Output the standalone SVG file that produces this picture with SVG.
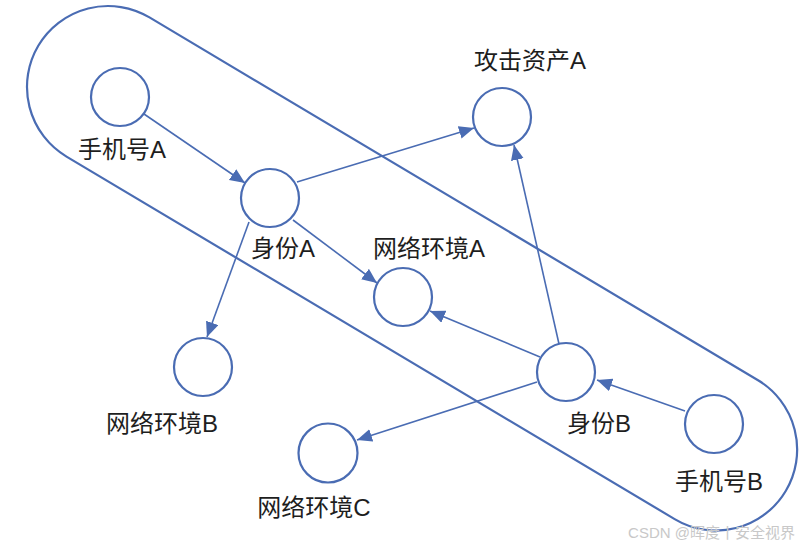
<svg xmlns="http://www.w3.org/2000/svg" width="807" height="549" viewBox="0 0 807 549">
  <style>
    .node { fill: #ffffff; stroke: #4a6cb3; stroke-width: 2.2; }
    .group { fill: none; stroke: #4a6cb3; stroke-width: 2.2; }
    .edge { fill: none; stroke: #4a6cb3; stroke-width: 1.6; marker-end: url(#arrow); }
    .label { font-family: "Liberation Sans", "Noto Sans CJK SC", sans-serif; font-size: 24px; fill: #1e1e1e; text-anchor: middle; }
    .wm { font-family: "Liberation Sans", "Noto Sans CJK SC", sans-serif; font-size: 15px; fill: #c8c8c8; text-anchor: end; }
  </style>
  <defs>
    <marker id="arrow" markerUnits="userSpaceOnUse" markerWidth="16" markerHeight="14" refX="15" refY="6.5" orient="auto">
      <path d="M0,0 L15,6.5 L0,13 z" fill="#4a6cb3"/>
    </marker>
  </defs>
  <rect width="807" height="549" fill="#ffffff"/>

  <g id="boundary">
    <rect class="group" x="-81" y="-81" width="870" height="162" rx="81" ry="81" transform="translate(108,87) rotate(30.8)"/>
  </g>

  <g id="connectors">
    <line class="edge" x1="144" y1="114" x2="245" y2="183"/>
    <line class="edge" x1="297" y1="182" x2="474" y2="128"/>
    <line class="edge" x1="293" y1="220" x2="377" y2="283"/>
    <line class="edge" x1="249" y1="222" x2="207" y2="337"/>
    <line class="edge" x1="559" y1="344" x2="514" y2="145"/>
    <line class="edge" x1="540" y1="357" x2="430" y2="311"/>
    <line class="edge" x1="537" y1="382" x2="357" y2="440"/>
    <line class="edge" x1="685" y1="411" x2="597" y2="380"/>
  </g>

  <g id="phoneA">
    <circle class="node" cx="120" cy="97" r="29"/>
    <text class="label" x="122" y="158">手机号A</text>
  </g>
  <g id="idA">
    <circle class="node" cx="270" cy="198" r="29"/>
    <text class="label" x="283" y="257">身份A</text>
  </g>
  <g id="assetA">
    <circle class="node" cx="502" cy="117" r="29"/>
    <text class="label" x="530" y="69">攻击资产A</text>
  </g>
  <g id="netA">
    <circle class="node" cx="403" cy="297" r="29"/>
    <text class="label" x="429" y="257">网络环境A</text>
  </g>
  <g id="netB">
    <circle class="node" cx="203" cy="367" r="29"/>
    <text class="label" x="162" y="432">网络环境B</text>
  </g>
  <g id="netC">
    <circle class="node" cx="328" cy="453" r="29.5"/>
    <text class="label" x="314" y="516">网络环境C</text>
  </g>
  <g id="idB">
    <circle class="node" cx="566" cy="372" r="29"/>
    <text class="label" x="599" y="432">身份B</text>
  </g>
  <g id="phoneB">
    <circle class="node" cx="714" cy="424" r="29"/>
    <text class="label" x="719" y="490">手机号B</text>
  </g>

  <text class="wm" x="795" y="538">CSDN @晖度丨安全视界</text>
</svg>
